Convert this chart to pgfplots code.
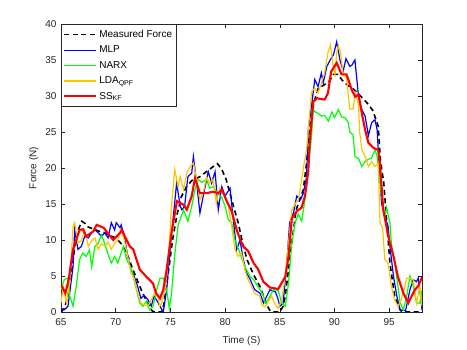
\documentclass[border=0pt]{standalone}
\usepackage{fontspec}
\setmainfont{Liberation Sans}
\usepackage{pgfplots}
\pgfplotsset{compat=1.18}
\definecolor{axgray}{RGB}{38,38,38}
\definecolor{myyellow}{RGB}{255,196,0}
\begin{document}
\fontsize{10}{12}\selectfont
\begin{tikzpicture}
\useasboundingbox (0,0) rectangle (467pt,350pt);
\begin{axis}[
  at={(61pt,38pt)}, anchor=south west,
  scale only axis, width=361pt, height=288pt,
  xmin=65, xmax=98, ymin=0, ymax=40,
  xtick={65,70,...,95}, ytick={0,5,...,40},
  tick align=inside, tick pos=both, major tick length=3.5pt,
  axis line style={axgray, line width=0.5pt},
  every tick/.style={axgray, line width=0.5pt},
  /pgf/number format/assume math mode=true,
  tick label style={font=\fontsize{10}{12}\selectfont, text=axgray},
  xticklabel style={yshift=-3pt},
  yticklabel style={xshift=-1pt},
  xlabel={Time (S)}, ylabel={Force (N)},
  label style={font=\fontsize{10}{12}\selectfont, text=axgray},
  xlabel style={yshift=-4pt},
  ylabel style={yshift=0pt},
  legend cell align=left,
  legend style={at={(0,1)}, anchor=north west, draw=axgray, line width=0.5pt,
    font=\fontsize{10}{12}\selectfont, inner xsep=2pt, inner ysep=4pt, row sep=3pt},
  legend image code/.code={\draw[#1] (0pt,0pt) -- (32pt,0pt);},
]
\addplot[black, line width=1.6pt, dash pattern=on 5pt off 3.5pt] coordinates {
(65,0)(65.3,0.5)(65.6,2)(65.9,4.5)(66.25,9)(66.6,11.5)(66.9,12.6)(67.2,12.3)(67.5,11.8)(68,11.5)(68.5,11.2)(69,11)(69.5,10.6)(70,10.3)(70.5,9.5)(71,8.2)(71.5,6.2)(72,4.3)(72.5,2.5)(73,1)(73.3,0.2)(73.5,0)(74.2,0)(74.4,1)(74.8,5.4)(75.2,10)(75.6,13.5)(76,16)(76.5,17.5)(77,18.3)(77.7,18.8)(78.3,19.5)(79,20.3)(79.3,20.6)(79.7,19.8)(80.1,18.4)(80.5,16.2)(80.8,14.5)(81.2,12.4)(81.6,9.6)(82,7.3)(82.6,5.2)(83.2,3.5)(83.5,2.3)(83.8,1)(84.1,0.2)(84.3,0)(85,0)(85.3,0.8)(85.5,2.2)(85.8,5.9)(86.1,9.6)(86.5,14.2)(87.15,17)(87.45,20.7)(87.76,25.8)(88.1,29)(88.5,31)(89,31.5)(89.5,32)(89.9,33)(90.3,33)(90.7,32.2)(91.2,31.5)(91.7,31)(92,30.6)(92.5,29.8)(93,29)(93.5,28)(94,25.8)(94.2,21)(94.5,18)(94.8,12)(95.07,6.8)(95.5,2.2)(96,0.3)(96.2,0)(98,0)
};
\addlegendentry{Measured Force}
\addplot[blue, line width=1.2pt] coordinates {
(65,0.5)(65.3,0.3)(65.64,0.8)(66.1,6.3)(66.25,11.4)(66.55,8.7)(66.86,9.1)(67.17,10.5)(67.5,10.3)(67.8,11)(68.1,11.4)(68.4,11)(68.7,10.5)(69,11)(69.3,10.3)(69.6,12.4)(69.9,11.4)(70.05,12.4)(70.4,11.7)(70.5,12.1)(70.8,10.5)(71.1,7.7)(71.4,5.9)(71.7,4.9)(72,3.6)(72.3,1.9)(72.6,2.3)(72.95,1.7)(73.25,0.8)(73.5,2.2)(73.8,1.5)(74.05,0.8)(74.35,0)(74.66,3.1)(74.97,8.7)(75.27,13.3)(75.57,17.9)(75.9,14.7)(76.05,14.2)(76.3,14.7)(76.6,18.8)(76.95,19.3)(77.1,21.6)(77.4,17.9)(77.7,13.75)(78,16.1)(78.46,19.5)(78.77,17.9)(79.08,19.5)(79.38,14.2)(79.7,17.4)(80,16.1)(80.45,17.2)(80.75,12.8)(81.06,8.7)(81.36,10)(81.66,7.3)(81.97,5.4)(82.3,4.5)(82.7,3.1)(83.2,2.6)(83.5,1.25)(84.1,3.1)(84.6,2.8)(84.86,1.7)(85,0.8)(85.3,1.2)(85.6,5.9)(85.9,12.4)(86.25,13.75)(86.55,16.1)(86.9,15.6)(87.15,16.5)(87.45,18.8)(87.6,25.3)(87.9,28.6)(88.2,32.3)(88.5,31.3)(88.8,33.2)(88.97,31.8)(89.3,34.1)(89.6,35)(89.9,35.7)(90.2,37.5)(90.5,35)(90.8,33.5)(91.05,35.2)(91.4,34.1)(91.6,34.3)(91.87,35)(92.2,29.9)(92.5,28.1)(92.8,27.2)(93.1,24.5)(93.4,26.3)(93.7,26.7)(93.9,25.3)(94.0,22.5)(94.16,18.8)(94.3,15.1)(94.6,13.3)(94.9,11.9)(95.07,9.1)(95.4,4.9)(95.7,2.2)(96,0.3)(96.5,0.2)(96.9,3.1)(97.2,4.5)(97.5,4.2)(97.66,4.7)(97.8,3.1)(98,0.3)
};
\addlegendentry{MLP}
\addplot[green, line width=1.2pt] coordinates {
(65,3.1)(65.3,4.5)(65.6,4.7)(65.8,2.2)(66.1,0.8)(66.4,3.6)(66.7,7.3)(67,8.2)(67.3,7.7)(67.6,8.6)(67.8,6.3)(68.1,9.1)(68.4,9.5)(68.7,10.7)(69,9.5)(69.3,8)(69.6,6.8)(69.9,7.7)(70.2,6.8)(70.5,8.2)(70.7,9.1)(71,7.3)(71.46,5.9)(71.9,3.1)(72.2,1.25)(72.5,0.8)(72.8,1.5)(73.1,0.3)(73.4,0.7)(73.75,3.1)(74.05,4.7)(74.35,4.7)(74.66,3.1)(74.9,0.5)(75.1,2.5)(75.4,8)(75.7,12)(76.2,14.2)(76.6,12.6)(76.95,14.7)(77.25,17)(77.55,18.4)(77.86,18)(78.3,18.4)(78.6,17.2)(78.9,17.4)(79.38,16.4)(79.7,15.9)(80,14.7)(80.3,12.8)(80.6,12.4)(80.9,10)(81.36,8.2)(81.8,6.3)(82.3,4.9)(82.6,4.5)(83.2,3.1)(83.5,2.3)(83.65,1.25)(83.95,1.7)(84.4,3.1)(84.86,3)(85.17,1.25)(85.5,0.8)(85.8,4)(86.1,9.6)(86.4,12.4)(86.7,13.6)(87,12.6)(87.3,15.6)(87.6,19.8)(87.9,24.4)(88.06,28.1)(88.2,27.8)(88.5,27.6)(88.8,27.2)(89.1,27.3)(89.44,26.5)(89.76,27.8)(90,27)(90.35,28.1)(90.65,27.1)(90.96,27)(91.26,26.3)(91.4,25)(91.7,24.6)(91.87,21.6)(92.2,21.3)(92.5,20.2)(92.8,20.9)(93.1,21.2)(93.4,21.4)(93.7,22.5)(93.9,21.6)(94.1,18.8)(94.3,16.1)(94.6,13.3)(94.76,14.5)(95.07,12.4)(95.2,9.5)(95.5,6.8)(95.8,3.6)(96,1.3)(96.3,0.3)(96.6,2.2)(96.9,5)(97.2,3.6)(97.5,1.25)(97.8,1.25)(98,3)
};
\addlegendentry{NARX}
\addplot[myyellow, line width=1.2pt] coordinates {
(65,1.25)(65.2,3.6)(65.5,1.25)(65.8,4)(66.1,11.9)(66.25,12.4)(66.55,9.6)(66.86,9.9)(67.17,11.4)(67.5,9.1)(67.8,9.9)(68.1,10.3)(68.4,8.7)(68.7,9.5)(69,9.1)(69.3,9.7)(69.6,8.7)(69.9,9.5)(70.2,10)(70.5,11.4)(70.8,9.9)(71.1,7.7)(71.4,5.4)(71.7,4.6)(72,2.6)(72.3,1.25)(72.6,1)(72.95,0.8)(73.25,1.7)(73.56,2.6)(73.9,2)(74,0.8)(74.2,1.2)(74.5,3.1)(74.8,7)(75.1,14.7)(75.4,19.8)(75.7,17.4)(75.9,18.8)(76.2,17)(76.5,19.3)(76.8,20.2)(77.1,20.7)(77.4,18.4)(77.7,15.6)(78,16.5)(78.3,18.8)(78.6,17.9)(78.9,18.4)(79.2,15.1)(79.5,17.2)(80,16.1)(80.3,14.7)(80.6,11.9)(80.9,8.7)(81.2,7.7)(81.5,8.2)(81.8,5.9)(82.1,4.5)(82.4,3.6)(82.7,2.6)(83.2,2.2)(83.35,1)(83.65,0.7)(84,1.6)(84.25,2.2)(84.6,1)(84.86,0.5)(85.17,1.7)(85.5,4.9)(85.8,9.6)(86.1,14.2)(86.4,15)(86.7,15.6)(87,18.4)(87.2,20.4)(87.45,22.5)(87.76,28.1)(87.9,30.6)(88.2,31.1)(88.5,30.4)(88.8,31.8)(89.1,33.2)(89.4,36)(89.63,37.1)(89.9,34)(90.05,33)(90.2,36)(90.35,37)(90.55,36)(90.8,32.9)(91.1,32.5)(91.26,30.2)(91.4,28.2)(91.7,28.2)(91.9,30.4)(92.2,28.8)(92.3,25)(92.5,22.5)(92.8,21.6)(93.1,20.2)(93.4,20.9)(93.7,20.2)(94,20.7)(94.16,12.4)(94.4,11.6)(94.6,7.3)(94.9,6.8)(95.2,3.6)(95.5,1.7)(95.8,0.8)(96.1,1.7)(96.45,3.6)(96.6,4.7)(96.9,4.7)(97.2,4.5)(97.5,1.25)(97.8,3.6)(98,0.8)
};
\addlegendentry{LDA\textsubscript{QPF}}
\addplot[red, line width=2.1pt] coordinates {
(65,3.8)(65.4,2.6)(65.7,4.5)(66.1,8.7)(66.7,11.4)(67.0,11.5)(67.3,10.5)(67.95,11.2)(68.26,12.1)(68.9,11.7)(69.5,10.5)(69.78,10.0)(70.4,11.0)(70.55,11.4)(71.0,10.0)(71.3,9.1)(71.6,8.7)(72.2,5.9)(72.8,4.9)(73.4,4.0)(73.7,2.6)(74.05,1.9)(74.35,3.1)(74.66,5.9)(75.1,11.0)(75.6,15.4)(76.2,14.9)(76.5,14.2)(76.95,16.1)(77.25,18.6)(77.7,16.5)(78.3,16.5)(78.9,16.7)(79.4,16.5)(79.7,17.0)(80.15,15.4)(80.6,14.0)(81.06,11.4)(81.4,10.0)(81.66,9.1)(82.1,8.5)(82.6,6.8)(83.0,6.0)(83.5,4.2)(84.1,3.4)(84.86,3.2)(85.5,4.9)(85.8,7.7)(86.1,13.0)(86.55,14.0)(87.0,14.5)(87.3,16.1)(87.6,19.5)(87.76,24)(88.06,29.2)(88.4,29.7)(88.7,29.6)(89.1,29.5)(89.4,30.4)(89.7,33.4)(90.2,34.6)(90.65,33.0)(91.1,33.0)(91.57,30.9)(91.9,29.9)(92.2,30.2)(92.5,27.6)(92.8,25.3)(93.1,23.5)(93.55,22.8)(94.0,22.5)(94.16,20.5)(94.46,14.2)(94.92,10.5)(95.4,7.7)(95.8,4.9)(96.3,2.6)(96.75,1.25)(97.05,2.2)(97.36,3.1)(97.66,3.6)(97.97,4.7)(98,4.7)
};
\addlegendentry{SS\textsubscript{KF}}
\end{axis}
\end{tikzpicture}
\end{document}
